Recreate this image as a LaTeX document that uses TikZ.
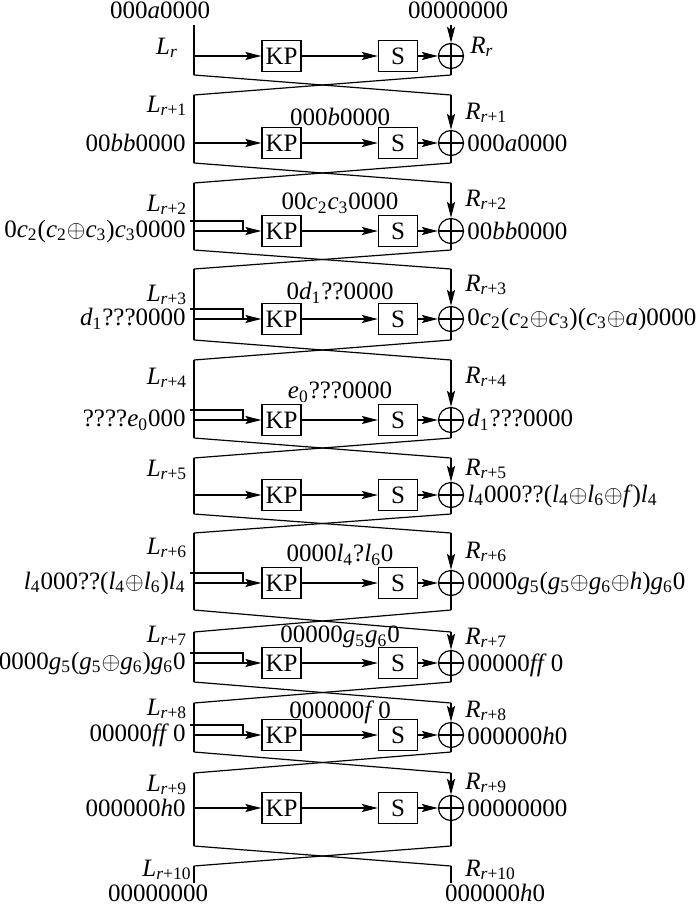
\documentclass[tikz,border=0pt]{standalone}
\usepackage{fontspec}
\setmainfont{Liberation Serif}
\usetikzlibrary{arrows.meta}
\newcommand{\sbs}[1]{\textsubscript{#1}}
\newcommand{\vv}[1]{\textit{#1}}
\newcommand{\xo}{{\fontsize{12}{12}\selectfont$\oplus$}}
\tikzset{
  wire/.style={line width=0.6pt},
  box/.style={draw, line width=0.6pt, minimum width=19.5pt, minimum height=15.5pt,
              inner sep=0pt, font=\fontsize{12.5}{14}\selectfont},
  xorc/.style={draw, circle, line width=0.6pt, minimum size=12.5pt, inner sep=0pt},
  lbl/.style={font=\fontsize{12.5}{14}\selectfont, inner sep=0pt},
  arr/.style={-{Stealth[length=8pt,width=4pt,inset=1.4pt]}, line width=0.6pt},
}

\begin{document}
\begin{tikzpicture}[x=0.5pt, y=-0.5pt]
\useasboundingbox (0,0) rectangle (700,904);

% ---------------- rounds ----------------
\foreach \i/\t/\y/\b in {0/25/56/75,1/95/143/163,2/183/231/250,3/269/319/340,
    4/360/420/438,5/458/495/514,6/533/583/610,7/632/663/682,8/703/735/752,9/773/808/846} {
  \coordinate (lt\i) at (194,\t);
  \coordinate (lb\i) at (194,\b);
  \coordinate (li\i) at (194,\y);
  \coordinate (rt\i) at (451,\t);
  \coordinate (rb\i) at (451,\b);
  \node[box] (kp\i) at (281.5,\y) {KP};
  \node[box] (s\i) at (398,\y) {S};
  \node[xorc] (x\i) at (451,\y) {};
  \draw[wire] (lt\i) -- (lb\i);
  \draw[wire] (x\i.west) -- (x\i.east);
  \draw[wire] (x\i.north) -- (rb\i);
  \draw[arr] (li\i) -- (kp\i);
  \draw[arr] (kp\i) -- (s\i);
  \draw[arr] (s\i) -- (x\i);
  \draw[arr] (rt\i) -- (x\i);
}
\coordinate (lt10) at (194,866);
\coordinate (rt10) at (451,866);
\coordinate (lend) at (194,883);
\coordinate (rend) at (451,883);
\draw[wire] (lt10) -- (lend);
\draw[wire] (rt10) -- (rend);

% ---------------- swaps ----------------
\foreach \i in {0,...,9} {
  \pgfmathtruncatemacro\j{\i+1}
  \draw[wire] (lb\i) -- (rt\j);
  \draw[wire] (rb\i) -- (lt\j);
}

% ---------------- side inputs ----------------
\foreach \i in {2,3,4,6,7,8} {
  \coordinate (bs\i) at ([shift={(-4,-10)}]li\i);
  \coordinate (bk\i) at ([shift={(49,-10)}]li\i);
  \draw[wire] (bs\i) -- (bk\i) -- (bk\i |- li\i);
  \fill ([shift={(0,-10)}]li\i) circle (0.9pt);
}

% ---------------- labels ----------------
\node[lbl] (topl) at (160,10) {000\vv{a}0000};
\node[lbl] (topr) at (458,10) {00000000};
\node[lbl] (botl) at (158,893) {00000000};
\node[lbl] (botr) at (495,893) {000000\vv{h}0};

\foreach \i/\y in {0/48,1/106,2/205,3/295,4/378,5/470,6/548,7/636,8/709,9/785,10/870} {
  \node[lbl] (ll\i) at (167,\y) {\vv{L}\sbs{\vv{r}\ifnum\i>0 +\i\fi}};
}
\foreach \i/\y in {0/47,1/113,2/200,3/285,4/377,5/469,6/552,7/638,8/711,9/783,10/870} {
  \node[lbl, anchor=west] (rl\i) at (\ifnum\i=0 470\else 465\fi,\y) {\vv{R}\sbs{\vv{r}\ifnum\i>0 +\i\fi}};
}

\foreach \i/\y/\txt in {1/143/{00\vv{bb}0000},
    2/231/{0\vv{c}\sbs{2}(\vv{c}\sbs{2}\xo\vv{c}\sbs{3})\vv{c}\sbs{3}0000},
    3/319/{\vv{d}\sbs{1}???0000},
    4/420/{????\vv{e}\sbs{0}000},
    6/583/{\vv{l}\sbs{4}000??(\vv{l}\sbs{4}\xo\vv{l}\sbs{6})\vv{l}\sbs{4}},
    7/663/{0000\vv{g}\sbs{5}(\vv{g}\sbs{5}\xo\vv{g}\sbs{6})\vv{g}\sbs{6}0},
    8/735/{00000\vv{ff}\,0},
    9/808/{000000\vv{h}0}} {
  \node[lbl, anchor=east] (in\i) at (186,\y) {\txt};
}

\foreach \i/\y/\txt in {1/143/{000\vv{a}0000},
    2/231/{00\vv{bb}0000},
    3/319/{0\vv{c}\sbs{2}(\vv{c}\sbs{2}\xo\vv{c}\sbs{3})(\vv{c}\sbs{3}\xo\vv{a})0000},
    4/420/{\vv{d}\sbs{1}???0000},
    5/496/{\vv{l}\sbs{4}000??(\vv{l}\sbs{4}\xo\vv{l}\sbs{6}\xo\vv{f})\vv{l}\sbs{4}},
    6/583/{0000\vv{g}\sbs{5}(\vv{g}\sbs{5}\xo\vv{g}\sbs{6}\xo\vv{h})\vv{g}\sbs{6}0},
    7/665/{00000\vv{ff}\,0},
    8/736/{000000\vv{h}0},
    9/808/{00000000}} {
  \node[lbl, anchor=west] (out\i) at (467,\y) {\txt};
}

\foreach \i/\y/\txt in {1/117/{000\vv{b}0000},
    2/203/{00\vv{c}\sbs{2}\vv{c}\sbs{3}0000},
    3/293/{0\vv{d}\sbs{1}??0000},
    4/392/{\vv{e}\sbs{0}???0000},
    6/555/{0000\vv{l}\sbs{4}?\vv{l}\sbs{6}0},
    7/637/{00000\vv{g}\sbs{5}\vv{g}\sbs{6}0},
    8/712/{000000\vv{f}\,0}} {
  \node[lbl] (mid\i) at (340,\y) {\txt};
}

\end{tikzpicture}
\end{document}
